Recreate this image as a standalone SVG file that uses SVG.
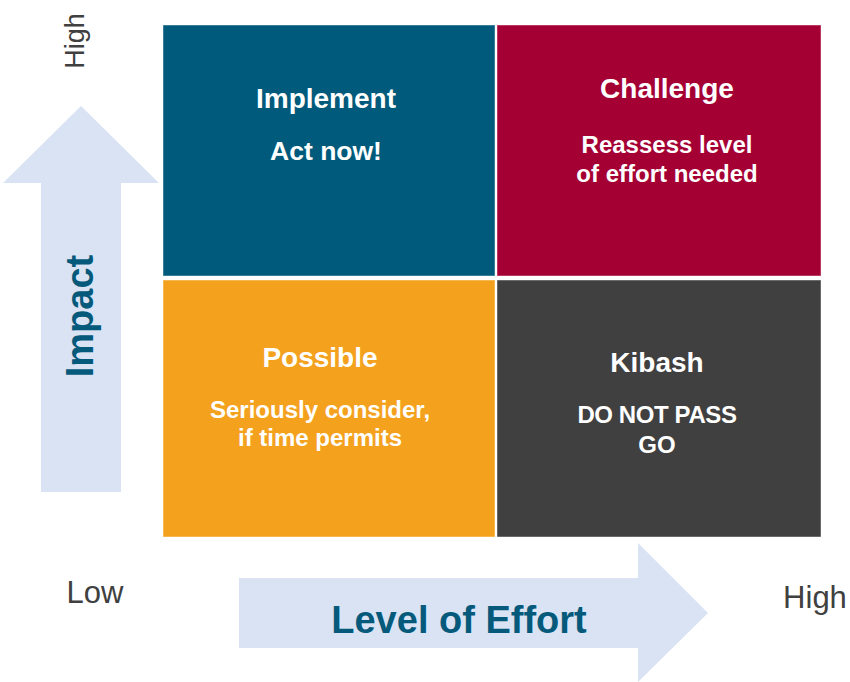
<svg xmlns="http://www.w3.org/2000/svg" width="850" height="682" viewBox="0 0 850 682">
  <style>
    .axis-arrow { fill: #dae3f3; }
    .axis-title { font-family: "Liberation Sans", Arial, sans-serif; font-weight: bold; font-size: 38px; fill: #055a7c; text-anchor: middle; }
    .axis-end { font-family: "Liberation Sans", Arial, sans-serif; fill: #404040; text-anchor: middle; }
    .quad { stroke: #ffffff; stroke-opacity: 0.45; stroke-width: 1; }
    .q-title { font-family: "Liberation Sans", Arial, sans-serif; font-weight: bold; font-size: 28px; fill: #ffffff; text-anchor: middle; }
    .q-text { font-family: "Liberation Sans", Arial, sans-serif; font-weight: bold; font-size: 24px; fill: #ffffff; text-anchor: middle; }
    .q-text.large { font-size: 26.5px; }
  </style>

  <rect width="850" height="682" fill="#ffffff"/>

  <!-- Axis arrows -->
  <g id="axes">
    <polygon class="axis-arrow" points="81,106 159,183 121,183 121,492 41,492 41,183 3,183"/>
    <polygon class="axis-arrow" points="239,578 638,578 638,543 708,613 638,682 638,648 239,648"/>
    <text class="axis-title" transform="translate(93,316) rotate(-90)">Impact</text>
    <text class="axis-title" x="459" y="633">Level of Effort</text>
    <text class="axis-end" font-size="27" transform="translate(84,41) rotate(-90)">High</text>
    <text class="axis-end" font-size="31" x="95" y="603">Low</text>
    <text class="axis-end" font-size="31" x="815" y="608">High</text>
  </g>

  <!-- Quadrants -->
  <g id="implement">
    <rect class="quad" x="163" y="25" width="332" height="251" fill="#005a7b"/>
    <text class="q-title" x="326" y="108">Implement</text>
    <text class="q-text large" x="326" y="160">Act now!</text>
  </g>

  <g id="challenge">
    <rect class="quad" x="497" y="25" width="324" height="251" fill="#a50034"/>
    <text class="q-title" x="667" y="98">Challenge</text>
    <text class="q-text" x="667" y="153">Reassess level</text>
    <text class="q-text" x="667" y="182">of effort needed</text>
  </g>

  <g id="possible">
    <rect class="quad" x="163" y="280" width="332" height="257" fill="#f4a11e"/>
    <text class="q-title" x="320" y="367">Possible</text>
    <text class="q-text" x="320" y="418">Seriously consider,</text>
    <text class="q-text" x="320" y="446">if time permits</text>
  </g>

  <g id="kibash">
    <rect class="quad" x="497" y="280" width="324" height="257" fill="#404040"/>
    <text class="q-title" x="657" y="372">Kibash</text>
    <text class="q-text" x="657" y="423" letter-spacing="-0.4">DO NOT PASS</text>
    <text class="q-text" x="657" y="453">GO</text>
  </g>
</svg>
